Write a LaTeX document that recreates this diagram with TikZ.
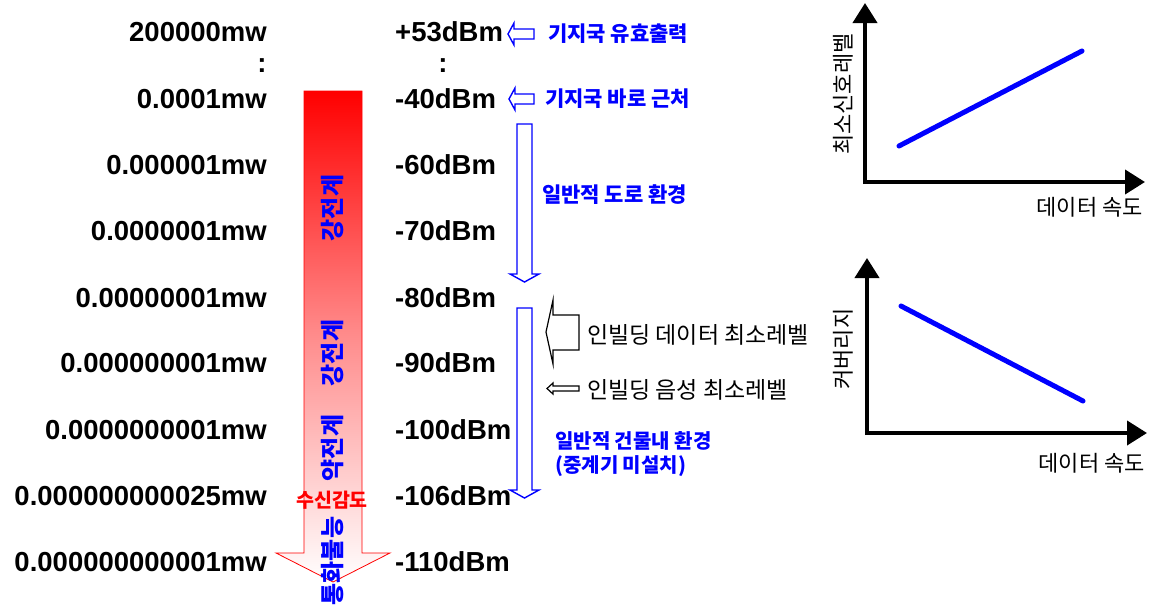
\documentclass[tikz,border=0pt]{standalone}
\usepackage{fontspec}
\setmainfont{Liberation Sans}
\newfontfamily\kr{Noto Sans CJK KR}
\usetikzlibrary{arrows.meta}
\tikzset{
  num/.style={font=\bfseries\fontsize{27.5}{28}\selectfont, inner sep=0},
  bluelbl/.style={font=\kr\bfseries\fontsize{21}{23}\selectfont, text=blue, inner sep=0, anchor=west, align=left},
  blacklbl/.style={font=\kr\fontsize{23}{25}\selectfont, inner sep=0, anchor=west},
  barlbl/.style={font=\kr\bfseries\fontsize{24}{26}\selectfont, text=blue, inner sep=0, rotate=90},
  axlbl/.style={font=\kr\fontsize{22}{24}\selectfont, inner sep=0},
  hollowblue/.style={draw=blue, line width=1.4pt, fill=white, line join=miter},
  hollowblack/.style={draw=black, line width=1.2pt, fill=white, line join=miter},
  axis/.style={line width=4pt, -{Triangle[length=20pt,width=24pt]}},
  curve/.style={line width=5pt, blue, line cap=round}
}
\begin{document}
\begin{tikzpicture}[x=1pt,y=-1pt]
\useasboundingbox (0,0) rectangle (1152,605);
% gradient arrow
\shade[top color=red, bottom color=white, middle color=red!45]
  (304,91) -- (362,91) -- (362,553) -- (390,553) -- (333,582) -- (276,553) -- (304,553) -- cycle;
\draw[red, line width=0.8pt, line join=miter]
  (304,91) -- (362,91) -- (362,553) -- (390,553) -- (333,582) -- (276,553) -- (304,553) -- cycle;
\node[barlbl] (g1) at (333,208) {강전계};
\node[barlbl] (g2) at (333,353) {강전계};
\node[barlbl] (w1) at (333,448) {약전계};
\node[font=\kr\bfseries\fontsize{19.5}{21}\selectfont, text=red, inner sep=0] (sens) at (332,500) {수신감도};
\node[barlbl] (nc) at (333,561) {통화불능};
% left column
\node[num, anchor=east] (m1) at (267,32) {200000mw};
\node[num] (mc) at (262,66) {:};
\node[num, anchor=east] (m2) at (267,99) {0.0001mw};
\node[num, anchor=east] (m3) at (267,165) {0.000001mw};
\node[num, anchor=east] (m4) at (267,231) {0.0000001mw};
\node[num, anchor=east] (m5) at (267,298) {0.00000001mw};
\node[num, anchor=east] (m6) at (267,363) {0.000000001mw};
\node[num, anchor=east] (m7) at (267,430) {0.0000000001mw};
\node[num, anchor=east] (m8) at (267,496) {0.000000000025mw};
\node[num, anchor=east] (m9) at (267,562) {0.000000000001mw};
% right column
\node[num, anchor=west] (d1) at (395,32) {+53dBm};
\node[num] (dc) at (443,66) {:};
\node[num, anchor=west] (d2) at (395,99) {-40dBm};
\node[num, anchor=west] (d3) at (395,165) {-60dBm};
\node[num, anchor=west] (d4) at (395,231) {-70dBm};
\node[num, anchor=west] (d5) at (395,298) {-80dBm};
\node[num, anchor=west] (d6) at (395,363) {-90dBm};
\node[num, anchor=west] (d7) at (395,430) {-100dBm};
\node[num, anchor=west] (d8) at (395,496) {-106dBm};
\node[num, anchor=west] (d9) at (395,562) {-110dBm};
% blue left arrows
\draw[hollowblue] (508,34) -- (514,23) -- (514,29) -- (534,29) -- (534,39) -- (514,39) -- (514,45) -- cycle;
\draw[hollowblue] (509,99) -- (515,88) -- (515,94) -- (534,94) -- (534,104) -- (515,104) -- (515,110) -- cycle;
\node[bluelbl] (t1) at (548,34) {기지국 유효출력};
\node[bluelbl] (t2) at (545,99) {기지국 바로 근처};
% blue down arrows
\draw[hollowblue] (517,124) -- (532,124) -- (532,274) -- (539,274) -- (524.5,282) -- (510,274) -- (517,274) -- cycle;
\draw[hollowblue] (517,308) -- (532,308) -- (532,490) -- (539,490) -- (524.5,498) -- (510,490) -- (517,490) -- cycle;
\node[bluelbl] (t3) at (542,195) {일반적 도로 환경};
\node[bluelbl, align=left, font=\kr\bfseries\fontsize{20}{24}\selectfont] (t4) at (555,454) {일반적 건물내 환경\\(중계기 미설치)};
% black left arrows
\draw[hollowblack] (546,332) -- (553,300) -- (553,315) -- (579,315) -- (579,350) -- (553,350) -- (553,364) -- cycle;
\draw[hollowblack] (547,388.5) -- (553,383) -- (553,386) -- (579,386) -- (579,391) -- (553,391) -- (553,394) -- cycle;
\node[blacklbl] (b1) at (587,335) {인빌딩 데이터 최소레벨};
\node[blacklbl] (b2) at (587,390) {인빌딩 음성 최소레벨};
% top graph
\coordinate (y1) at (865,3);
\coordinate (x1) at (1145,182);
\draw[axis] (865,184) -- (y1);
\draw[axis] (863,182) -- (x1);
\coordinate (c1a) at (899,146);
\coordinate (c1b) at (1082,51);
\draw[curve] (c1a) -- (c1b);
\node[axlbl, rotate=90] (yl1) at (843,94) {최소신호레벨};
\node[axlbl, anchor=east] (xl1) at (1143,207) {데이터 속도};
% bottom graph
\coordinate (y2) at (867,258);
\coordinate (x2) at (1147,433);
\draw[axis] (867,435) -- (y2);
\draw[axis] (865,433) -- (x2);
\coordinate (c2a) at (901,306);
\coordinate (c2b) at (1083,401);
\draw[curve] (c2a) -- (c2b);
\node[axlbl, rotate=90] (yl2) at (843,349) {커버리지};
\node[axlbl, anchor=east] (xl2) at (1145,463) {데이터 속도};
\end{tikzpicture}
\end{document}
